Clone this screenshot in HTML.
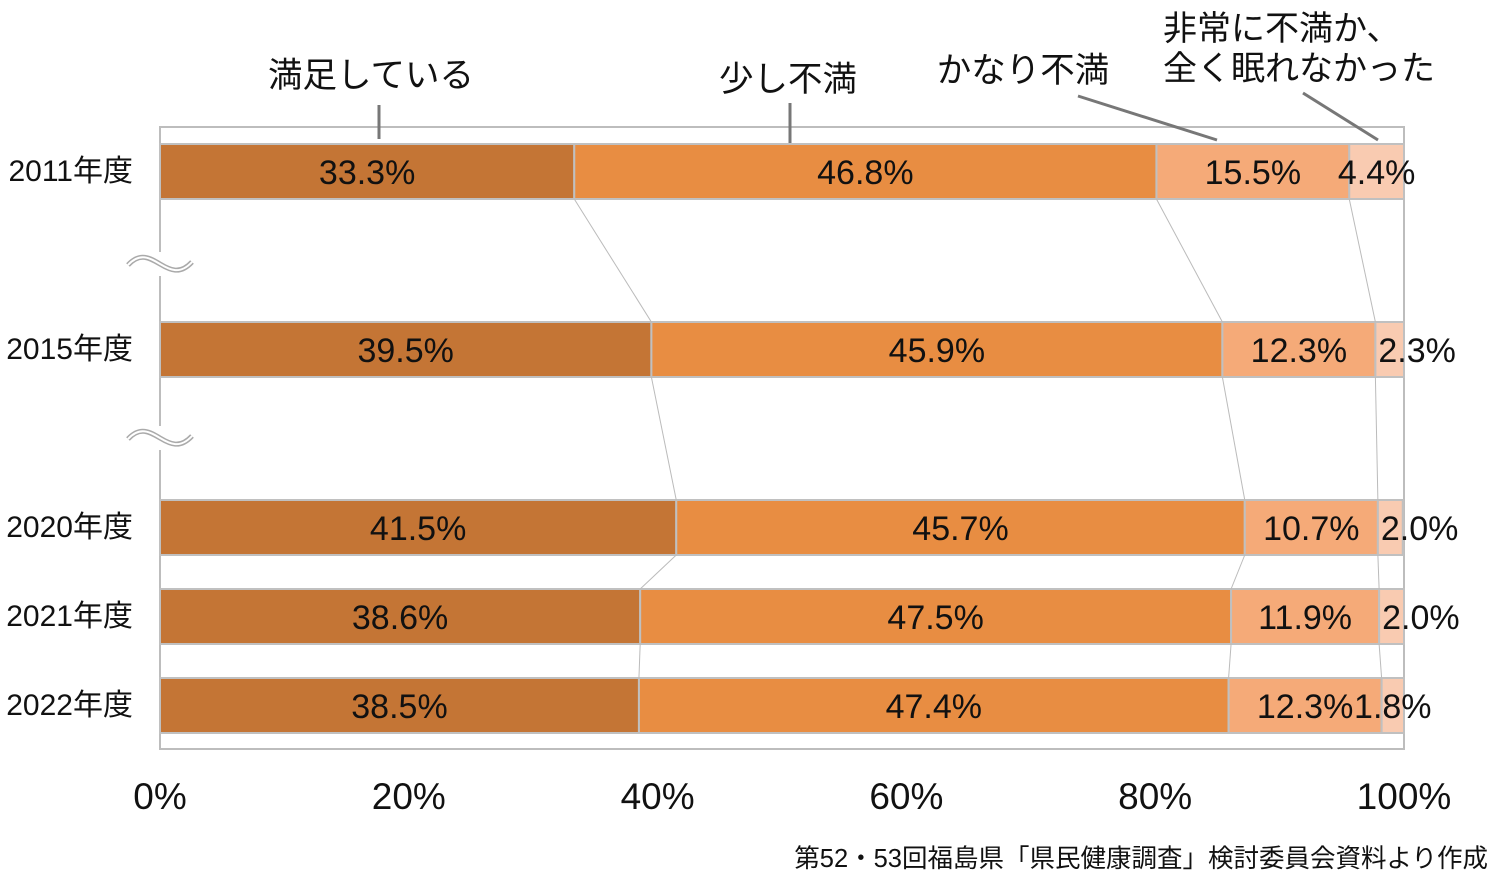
<!DOCTYPE html>
<html><head><meta charset="utf-8"><style>
body{margin:0;background:#fff;width:1500px;height:880px;overflow:hidden}
svg text{font-family:"Liberation Sans","Noto Sans CJK JP",sans-serif;fill:#111}
</style></head><body>
<svg id="chart" width="1500" height="880" viewBox="0 0 1500 880" xmlns="http://www.w3.org/2000/svg">
<rect x="160" y="127" width="1244" height="622" fill="none" stroke="#bdbdbd" stroke-width="2"/>
<g id="legend">
 <text x="371" y="87" font-size="34.5" text-anchor="middle">満足している</text>
 <line x1="379" y1="105" x2="379" y2="139" stroke="#777" stroke-width="3"/>
 <text x="788" y="91" font-size="34.5" text-anchor="middle">少し不満</text>
 <line x1="790" y1="103" x2="790" y2="143" stroke="#777" stroke-width="3"/>
 <text x="1023" y="82" font-size="34.5" text-anchor="middle">かなり不満</text>
 <line x1="1078" y1="96" x2="1217" y2="140" stroke="#777" stroke-width="3"/>
 <text x="1163" y="40" font-size="34">非常に不満か、</text>
 <text x="1163" y="80" font-size="34">全く眠れなかった</text>
 <line x1="1303" y1="93" x2="1378" y2="140" stroke="#777" stroke-width="3"/>
</g>
<g id="axis">
 <rect x="155" y="252" width="10" height="24" fill="#fff"/>
 <rect x="155" y="426" width="10" height="24" fill="#fff"/>
 <path d="M128 265 C140 252,150 258,160 264 C170 270,180 275,192 262" fill="none" stroke="#aaa" stroke-width="5"/>
 <path d="M128 265 C140 252,150 258,160 264 C170 270,180 275,192 262" fill="none" stroke="#fff" stroke-width="2"/>
 <path d="M128 439 C140 426,150 432,160 438 C170 444,180 449,192 436" fill="none" stroke="#aaa" stroke-width="5"/>
 <path d="M128 439 C140 426,150 432,160 438 C170 444,180 449,192 436" fill="none" stroke="#fff" stroke-width="2"/>
</g>
<g id="bars"></g>
<g id="ticks"></g>
<text x="1488" y="867" font-size="25.5" text-anchor="end">第52・53回福島県「県民健康調査」検討委員会資料より作成</text>
</svg>
<script>
const years=["2011年度","2015年度","2020年度","2021年度","2022年度"];
const satisfied=[33.3,39.5,41.5,38.6,38.5];
const slightly=[46.8,45.9,45.7,47.5,47.4];
const quite=[15.5,12.3,10.7,11.9,12.3];
const very=[4.4,2.3,2.0,2.0,1.8];
const tickLabels=["0%","20%","40%","60%","80%","100%"];
const rowY=[144,322,500,589,678];
const colors=["#C47535","#E88D42","#F5AA78","#F9CBB1"];
const smallStart=[false,true,true,true,false];
const ns="http://www.w3.org/2000/svg";
const X=v=>160+v*12.44;
const g=document.getElementById("bars"),tg=document.getElementById("ticks");
function el(t,a,p){const e=document.createElementNS(ns,t);for(const k in a)e.setAttribute(k,a[k]);p.appendChild(e);return e;}
const series=[satisfied,slightly,quite,very];
const cums=[];
years.forEach((y,i)=>{
 const yl=el("text",{x:133,y:rowY[i]+37,"font-size":30,"text-anchor":"end"},g);yl.textContent=y;
 
 
 let c=0;const cs=[];
 series.forEach((s,k)=>{
  const v=s[i];const x0=X(c),x1=X(c+v);
  const r=el("rect",{x:x0,y:rowY[i],width:x1-x0,height:55,fill:colors[k],stroke:"#c0c0c0","stroke-width":2},g);
  
  
  let tx=(x0+x1)/2,anc="middle";
  if(k==3&&smallStart[i]){tx=x0+3;anc="start";}
  const t=el("text",{x:tx,y:rowY[i]+40,"font-size":34,"text-anchor":anc},g);
  t.textContent=v.toFixed(1)+"%";
  
  
  c+=v;cs.push(c);
 });
 cums.push(cs);
});
for(let i=0;i<years.length-1;i++){
 for(let k=0;k<3;k++){
  const l=el("line",{x1:X(cums[i][k]),y1:rowY[i]+55,x2:X(cums[i+1][k]),y2:rowY[i+1],stroke:"#bbb","stroke-width":1},g);
  
  
 }
}
tickLabels.forEach((lab,i)=>{
 const t=el("text",{x:X(i*20),y:809,"font-size":37,"text-anchor":"middle"},tg);
 t.textContent=lab;
 
 
});
</script>
</body></html>
